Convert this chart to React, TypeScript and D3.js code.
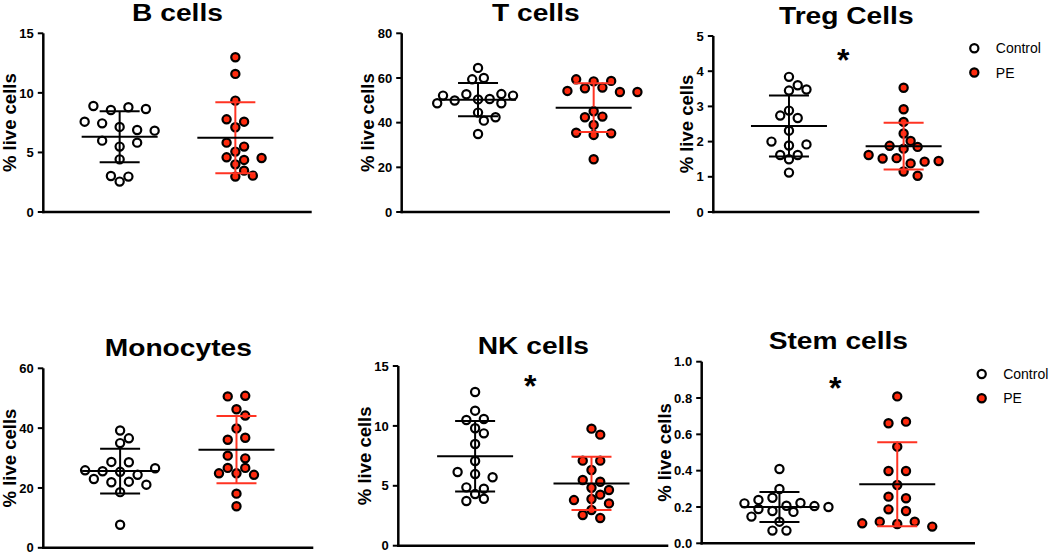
import React from 'react';
import * as d3 from 'd3';

// ---------- data ----------
const groups = ['Control', 'PE'];

const bCellsControl = [8.9, 8.56, 8.79, 8.65, 7.58, 7.44, 7.14, 6.88, 6.83, 5.99, 5.49, 5.82, 4.42, 2.55, 3.02, 2.97];
const bCellsPE = [12.99, 11.59, 9.35, 7.78, 7.58, 7.11, 5.82, 5.49, 5.07, 4.59, 4.37, 4.53, 4.0, 2.97, 3.05, 3.47];
const bCellsTicks = [0, 5, 10, 15];

const tCellsControl = [64.5, 59.4, 60.0, 52.1, 49.9, 52.7, 48.7, 50.4, 50.6, 52.8, 48.7, 52.1, 44.5, 40.9, 42.4, 34.9];
const tCellsPE = [59.4, 54.2, 55.4, 55.7, 58.5, 53.7, 58.7, 53.7, 45.1, 42.4, 42.7, 39.0, 35.5, 34.5, 35.2, 23.6];
const tCellsTicks = [0, 20, 40, 60, 80];

const tregControl = [3.84, 3.45, 3.48, 3.6, 2.88, 2.74, 2.67, 2.31, 2.0, 1.89, 1.92, 1.62, 1.5, 1.62, 1.12];
const tregPE = [3.53, 2.92, 2.56, 2.23, 2.02, 1.88, 1.8, 1.85, 1.62, 1.52, 1.53, 1.38, 1.43, 1.45, 1.15, 1.03];
const tregTicks = [0, 1, 2, 3, 4, 5];

const monoControl = [39.2, 35.0, 36.6, 28.7, 28.6, 25.9, 25.6, 25.4, 24.4, 26.6, 23.0, 21.9, 22.1, 21.1, 18.6, 7.7];
const monoPE = [50.6, 50.8, 46.3, 44.2, 39.9, 36.1, 36.8, 30.8, 29.9, 26.7, 24.9, 24.9, 24.4, 26.7, 18.1, 13.9];
const monoTicks = [0, 20, 40, 60];

const nkControl = [12.83, 11.27, 10.49, 10.58, 9.8, 9.38, 8.49, 7.07, 6.15, 5.98, 5.71, 4.87, 4.76, 4.31, 3.73, 3.92];
const nkPE = [9.77, 9.27, 7.1, 7.1, 6.32, 5.48, 5.34, 4.84, 4.65, 4.26, 3.81, 3.9, 3.53, 2.98, 2.56, 2.31];
const nkTicks = [0, 5, 10, 15];

const stemControl = [0.409, 0.299, 0.22, 0.239, 0.251, 0.207, 0.178, 0.189, 0.2, 0.222, 0.173, 0.147, 0.119, 0.07, 0.07, 0.205];
const stemPE = [0.809, 0.661, 0.67, 0.532, 0.398, 0.398, 0.321, 0.257, 0.248, 0.187, 0.178, 0.11, 0.119, 0.106, 0.119, 0.092];
const stemTicks = [0, 0.2, 0.4, 0.6, 0.8, 1.0];

// ---------- layout / style ----------
const FONT = "'Liberation Sans', Arial, Helvetica, sans-serif";
const RED = '#ff2a0d';
const RED_LINE = '#ff3322';
const DOT_R = 4.1;

type Panel = {
  title: string;
  control: number[];
  pe: number[];
  ticks: number[];
  decimals: number;
  x0: number; x1: number; top: number; bottom: number;
  star?: number;
  legend?: { x: number; y: number };
};

const panels: Panel[] = [
  { title: 'B cells', control: bCellsControl, pe: bCellsPE, ticks: bCellsTicks, decimals: 0, x0: 43.3, x1: 311.7, top: 33.3, bottom: 212 },
  { title: 'T cells', control: tCellsControl, pe: tCellsPE, ticks: tCellsTicks, decimals: 0, x0: 401.7, x1: 670, top: 33.3, bottom: 212 },
  { title: 'Treg Cells', control: tregControl, pe: tregPE, ticks: tregTicks, decimals: 0, x0: 713.3, x1: 979.3, top: 36, bottom: 212, star: 17, legend: { x: 974.3, y: 48.3 } },
  { title: 'Monocytes', control: monoControl, pe: monoPE, ticks: monoTicks, decimals: 0, x0: 43.3, x1: 313.3, top: 368.3, bottom: 547.8 },
  { title: 'NK cells', control: nkControl, pe: nkPE, ticks: nkTicks, decimals: 0, x0: 398.3, x1: 668.3, top: 366, bottom: 545.7, star: 13 },
  { title: 'Stem cells', control: stemControl, pe: stemPE, ticks: stemTicks, decimals: 1, x0: 701.7, x1: 975, top: 361.7, bottom: 543.3, star: 20, legend: { x: 981.7, y: 374 } },
];

type Pt = { i: number; y: number; dx: number };

// Prism-like scatter layout: cluster points into rows, centre each row, nudge rows that collide
function scatterLayout(values: number[], y: (v: number) => number): Pt[] {
  const GAP = 4, SPAN = 9, DMIN = 9, MAXHALF = 35, BASE = 17.5;
  const pts: Pt[] = values.map((v, i) => ({ i, y: y(v), dx: 0 }));
  const sorted = pts.slice().sort((a, b) => a.y - b.y || a.i - b.i);
  const rows: Pt[][] = [];
  let cur: Pt[] = [];
  for (const p of sorted) {
    if (cur.length && (p.y - cur[cur.length - 1].y > GAP || p.y - cur[0].y > SPAN)) {
      rows.push(cur);
      cur = [];
    }
    cur.push(p);
  }
  if (cur.length) rows.push(cur);
  const nmax = d3.max(rows, (r) => r.length) || 1;
  const step = nmax > 1 ? Math.min(BASE, (2 * MAXHALF) / (nmax - 1)) : BASE;
  const h = step / 2;
  const placed: Pt[] = [];
  const free = (x: number, yy: number) =>
    placed.every((q) => (q.dx - x) ** 2 + (q.y - yy) ** 2 >= DMIN * DMIN - 1e-6);
  for (const row of rows) {
    row.sort((a, b) => a.i - b.i);
    const n = row.length;
    const base = row.map((_, k) => (k - (n - 1) / 2) * step);
    let done = false;
    for (const s of [0, h, -h, 2 * h, -2 * h]) {
      if (row.every((p, k) => free(base[k] + s, p.y))) {
        row.forEach((p, k) => {
          p.dx = base[k] + s;
          placed.push(p);
        });
        done = true;
        break;
      }
    }
    if (!done) {
      for (const p of row) {
        const sum = d3.sum(placed, (q) => q.dx);
        let best = 0;
        for (let k = 0; k <= 16; k++) {
          const c1 = k * h * (sum > 0 ? -1 : 1);
          if (free(c1, p.y)) { best = c1; break; }
          if (free(-c1, p.y)) { best = -c1; break; }
        }
        p.dx = best;
        placed.push(p);
      }
    }
  }
  return pts;
}

function textWidth(s: string, size: number) {
  let w = 0;
  for (const ch of s) w += ch === '.' ? 0.278 : 0.556;
  return w * size;
}

const TICK_FS = 13;

function PanelView({ p }: { p: Panel }) {
  const y = d3.scaleLinear().domain([p.ticks[0], p.ticks[p.ticks.length - 1]]).range([p.bottom, p.top]);
  const x = d3.scalePoint<string>().domain(groups).range([p.x0, p.x1]).padding(0.66);
  const fmt = d3.format(`.${p.decimals}f`);
  const tickLabels = p.ticks.map((t) => fmt(t));
  const maxW = d3.max(tickLabels, (s) => textWidth(s, TICK_FS)) || 0;
  const labelX = p.x0 - 10 - maxW - 3;
  const cx = (p.x0 + p.x1) / 2;
  const series = [
    { name: 'Control', values: p.control, fill: '#ffffff', bar: '#000000' },
    { name: 'PE', values: p.pe, fill: RED, bar: RED_LINE },
  ];
  return (
    <g>
      <text
        transform={`translate(${cx},${p.top - 12.5}) scale(1.15,1)`}
        textAnchor="middle"
        fontFamily={FONT}
        fontWeight="bold"
        fontSize={24.5}
        fill="#000"
      >
        {p.title}
      </text>
      <text
        transform={`translate(${labelX},${(p.top + p.bottom) / 2}) rotate(-90)`}
        textAnchor="middle"
        fontFamily={FONT}
        fontWeight="bold"
        fontSize={18.5}
        fill="#000"
      >
        % live cells
      </text>
      <line x1={p.x0} x2={p.x0} y1={p.top} y2={p.bottom + 1.2} stroke="#000" strokeWidth={2.5} />
      <line x1={p.x0 - 1.2} x2={p.x1} y1={p.bottom} y2={p.bottom} stroke="#000" strokeWidth={2.5} />
      {p.ticks.map((t, i) => (
        <g key={i}>
          <line x1={p.x0 - 5.5} x2={p.x0} y1={y(t)} y2={y(t)} stroke="#000" strokeWidth={2} />
          <text x={p.x0 - 9.5} y={y(t)} dy="0.36em" textAnchor="end" fontFamily={FONT} fontWeight="bold" fontSize={TICK_FS} fill="#000">
            {tickLabels[i]}
          </text>
        </g>
      ))}
      {series.map((s) => {
        const gx = x(s.name) as number;
        const pts = scatterLayout(s.values, y);
        const m = d3.mean(s.values) as number;
        const sd = d3.deviation(s.values) as number;
        return (
          <g key={s.name}>
            {pts.map((pt, i) => (
              <circle key={i} cx={gx + pt.dx} cy={pt.y} r={DOT_R} fill={s.fill} stroke="#000" strokeWidth={2.2} />
            ))}
            <line x1={gx} x2={gx} y1={y(m + sd)} y2={y(m - sd)} stroke={s.bar} strokeWidth={2} />
            <line x1={gx - 20} x2={gx + 20} y1={y(m + sd)} y2={y(m + sd)} stroke={s.bar} strokeWidth={2} />
            <line x1={gx - 20} x2={gx + 20} y1={y(m - sd)} y2={y(m - sd)} stroke={s.bar} strokeWidth={2} />
            <line x1={gx - 38} x2={gx + 38} y1={y(m)} y2={y(m)} stroke="#000" strokeWidth={2} />
          </g>
        );
      })}
      {p.star !== undefined && (
        <text
          x={((x('Control') as number) + (x('PE') as number)) / 2 - 3}
          y={p.top + p.star + 17.5}
          textAnchor="middle"
          fontFamily={FONT}
          fontWeight="bold"
          fontSize={32}
          fill="#000"
        >
          *
        </text>
      )}
      {p.legend && (
        <g>
          {series.map((s, i) => (
            <g key={s.name}>
              <circle cx={p.legend!.x} cy={p.legend!.y + i * 24.2} r={DOT_R} fill={s.fill} stroke="#000" strokeWidth={2.2} />
              <text x={p.legend!.x + 21.5} y={p.legend!.y + i * 24.2} dy="0.36em" fontFamily={FONT} fontSize={14} fill="#000">
                {s.name}
              </text>
            </g>
          ))}
        </g>
      )}
    </g>
  );
}

export default function App() {
  return (
    <svg
      width={1050}
      height={553}
      viewBox="0 0 1050 553"
      style={{ position: 'absolute', left: 0, top: 0, background: '#fff' }}
    >
      <rect x={0} y={0} width={1050} height={553} fill="#fff" />
      {panels.map((p) => (
        <PanelView key={p.title} p={p} />
      ))}
    </svg>
  );
}
